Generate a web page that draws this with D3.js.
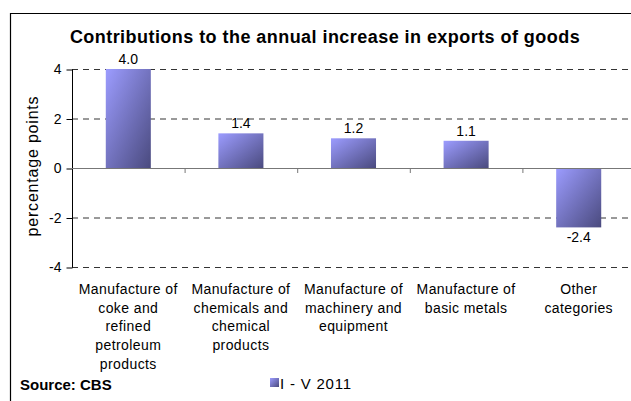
<!DOCTYPE html>
<html lang="en">
<head>
	<meta charset="UTF-8">
	<title>exports contributions</title>
	<script src="https://cdn.jsdelivr.net/npm/d3@7"></script>
	<style>
		body { margin: 0; background: #fff; }
		text { font-family: Arial, "Liberation Sans", sans-serif; }
	</style>
</head>
<body>
	<script>
		var categories = [
			["Manufacture of", "coke and", "refined", "petroleum", "products"],
			["Manufacture of", "chemicals and", "chemical", "products"],
			["Manufacture of", "machinery and", "equipment"],
			["Manufacture of", "basic metals"],
			["Other", "categories"]
		];
		var values = [4.0, 1.4, 1.2, 1.1, -2.4];
		var yTicks = [-4, -2, 0, 2, 4];
		var seriesName = "I - V 2011";

		var width = 631, height = 401;
		var svg = d3.select("body").append("svg").attr("width", width).attr("height", height);

		var grad = svg.append("defs").append("linearGradient").attr("id", "barGrad")
			.attr("x1", "0").attr("y1", "0").attr("x2", "1").attr("y2", "1");
		grad.append("stop").attr("offset", "0").attr("stop-color", "#9c9cff");
		grad.append("stop").attr("offset", "1").attr("stop-color", "#4a4a7e");

		// outer frame (only top and left visible)
		svg.append("line").attr("x1", 10).attr("y1", 13.5).attr("x2", width).attr("y2", 13.5).attr("stroke", "#000").attr("stroke-width", 1.2);
		svg.append("line").attr("x1", 10.5).attr("y1", 13).attr("x2", 10.5).attr("y2", height).attr("stroke", "#000").attr("stroke-width", 1.2);

		var plotL = 72, plotR = 635, plotT = 69, plotB = 267;
		var x = d3.scaleBand().domain(d3.range(values.length)).range([plotL, plotR]).paddingInner(0.6).paddingOuter(0.3);
		var y = d3.scaleLinear().domain([-4, 4]).range([plotB, plotT]);
		var step = x.step();

		svg.append("text").attr("x", 325).attr("y", 43).attr("text-anchor", "middle")
			.attr("font-size", 18).attr("letter-spacing", 0.45).attr("font-weight", "bold")
			.text("Contributions to the annual increase in exports of goods");

		// gridlines
		svg.selectAll(".grid").data(yTicks.filter(d => d != 0)).enter().append("line")
			.attr("x1", plotL).attr("x2", width).attr("y1", d => y(d) + 0.5).attr("y2", d => y(d) + 0.5)
			.attr("stroke", "#000").attr("stroke-dasharray", "6,5").attr("stroke-width", 0.8);

		var yAxis = svg.append("g").attr("transform", "translate(" + (plotL + 0.5) + ",0.5)")
			.call(d3.axisLeft(y).tickValues(yTicks).tickSize(6).tickFormat(d => String(d)));
		yAxis.select(".domain").attr("d", "M0," + plotT + "V" + plotB);
		yAxis.selectAll("text").attr("font-size", 14).attr("font-family", "Arial, 'Liberation Sans', sans-serif").attr("fill", "#000").attr("dx", "-2");

		svg.selectAll(".bar").data(values).enter().append("rect")
			.attr("x", (d, i) => x(i)).attr("width", x.bandwidth())
			.attr("y", d => y(Math.max(0, d))).attr("height", d => Math.abs(y(d) - y(0)))
			.attr("fill", "url(#barGrad)");

		// zero line and category ticks
		svg.append("line").attr("x1", plotL).attr("x2", width).attr("y1", y(0) + 0.5).attr("y2", y(0) + 0.5).attr("stroke", "#777").attr("stroke-width", 1.2);
		svg.selectAll(".ctick").data(d3.range(1, values.length)).enter().append("line")
			.attr("x1", i => plotL + i * step + 0.5).attr("x2", i => plotL + i * step + 0.5)
			.attr("y1", y(0)).attr("y2", y(0) + 5).attr("stroke", "#777");

		svg.selectAll(".vlab").data(values).enter().append("text")
			.attr("x", (d, i) => x(i) + x.bandwidth() / 2)
			.attr("y", d => d >= 0 ? y(d) - 5 : y(d) + 15)
			.attr("text-anchor", "middle").attr("font-size", 14).text(d => d.toFixed(1));

		var cl = svg.selectAll(".clab").data(categories).enter().append("text")
			.attr("text-anchor", "middle").attr("font-size", 14).attr("letter-spacing", 0.4);
		cl.selectAll("tspan").data((d, i) => d.map(t => ({ t: t, i: i }))).enter().append("tspan")
			.attr("x", d => x(d.i) + x.bandwidth() / 2)
			.attr("y", (d, j) => 294 + j * 18.7).text(d => d.t);

		svg.append("text").attr("transform", "translate(38," + (y(0) - 2) + ") rotate(-90)")
			.attr("text-anchor", "middle").attr("font-size", 16).attr("letter-spacing", 0.8).text("percentage points");

		svg.append("text").attr("x", 20).attr("y", 390).attr("font-size", 15).attr("font-weight", "bold").text("Source: CBS");

		svg.append("rect").attr("x", 270).attr("y", 378).attr("width", 9).attr("height", 9).attr("fill", "url(#barGrad)");
		svg.append("text").attr("x", 280).attr("y", 389).attr("font-size", 15).attr("letter-spacing", 0.8).text(seriesName);
	</script>
</body>
</html>
